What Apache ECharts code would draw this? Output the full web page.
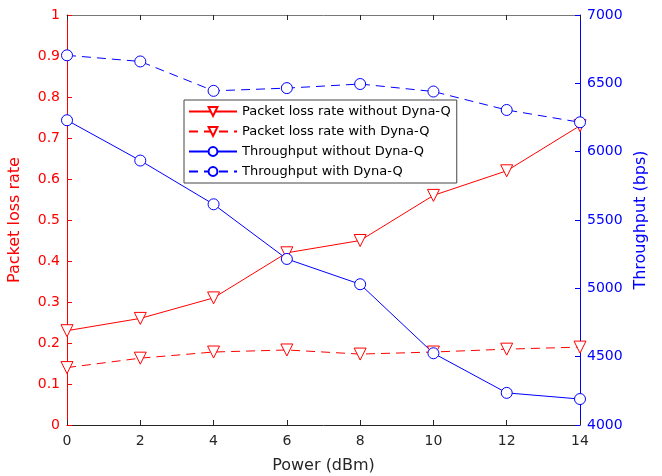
<!DOCTYPE html>
<html><head><meta charset="utf-8">
<script src="https://cdn.jsdelivr.net/npm/echarts@6/dist/echarts.min.js"></script>
<style>html,body{margin:0;padding:0;background:#fff}#c{width:662px;height:476px}</style>
</head><body><div id="c"></div>
<script>
const powers = [0, 2, 4, 6, 8, 10, 12, 14];
const lossWithout = [0.23, 0.26, 0.31, 0.42, 0.45, 0.56, 0.62, 0.73];
const lossWith = [0.14, 0.163, 0.178, 0.183, 0.173, 0.178, 0.185, 0.19];
const thrWithout = [6230, 5935, 5615, 5215, 5030, 4525, 4235, 4190];
const thrWith = [6705, 6660, 6445, 6465, 6495, 6440, 6305, 6215];
const names = ['Packet loss rate without Dyna-Q','Packet loss rate with Dyna-Q','Throughput without Dyna-Q','Throughput with Dyna-Q'];
const leftTicks = [0,0.1,0.2,0.3,0.4,0.5,0.6,0.7,0.8,0.9,1];

const RED = '#ff0000', BLUE = '#0000ff', FONT = 'DejaVu Sans';
const pairs = ys => powers.map((x, i) => [x, ys[i]]);

function mk(name, data, color, dashed, symbol, size, yIdx) {
  return {
    name, type: 'line', data: pairs(data), yAxisIndex: yIdx,
    symbol, symbolSize: size, showSymbol: true,
    symbolRotate: symbol === 'triangle' ? 180 : 0,
    lineStyle: { color, width: 1, type: dashed ? [9, 6] : 'solid' },
    itemStyle: { color: '#fff', borderColor: color, borderWidth: 1 },
    emphasis: { disabled: true }, animation: false, z: 3
  };
}

const chart = echarts.init(document.getElementById('c'));
chart.setOption({
  backgroundColor: '#fff',
  animation: false,
  textStyle: { fontFamily: FONT },
  grid: { left: 67, right: 82, top: 15, bottom: 51, show: false, containLabel: false, outerBoundsMode: 'none' },
  legend: {
    orient: 'vertical', left: 184, top: 100,
    backgroundColor: '#fff', borderColor: '#444', borderWidth: 1,
    padding: [5, 6, 5, 4], itemGap: 7, itemWidth: 48, itemHeight: 11,
    textStyle: { fontFamily: FONT, fontSize: 13, color: '#000' },
    data: names
  },
  xAxis: [{
    type: 'value', min: 0, max: 14, interval: 2,
    name: 'Power (dBm)', nameLocation: 'middle', nameGap: 33, nameMoveOverlap: false,
    nameTextStyle: { fontFamily: FONT, fontSize: 16, color: '#262626' },
    axisLine: { show: true, onZero: false, lineStyle: { color: '#262626' } },
    axisTick: { inside: true, length: 5, lineStyle: { color: '#262626' } },
    axisLabel: { fontFamily: FONT, fontSize: 14, color: '#262626', margin: 9 },
    splitLine: { show: false }
  }, {
    type: 'value', min: 0, max: 14, interval: 2, position: 'top',
    axisLine: { show: true, onZero: false, lineStyle: { color: '#777' } },
    axisTick: { inside: true, length: 5, lineStyle: { color: '#262626' } },
    axisLabel: { show: false }, splitLine: { show: false }
  }],
  yAxis: [{
    type: 'value', min: 0, max: 1, interval: 0.1, position: 'left',
    name: 'Packet loss rate', nameLocation: 'middle', nameGap: 44, nameMoveOverlap: false,
    nameTextStyle: { fontFamily: FONT, fontSize: 16, color: RED },
    axisLine: { show: true, onZero: false, lineStyle: { color: RED } },
    axisTick: { inside: true, length: 5, lineStyle: { color: RED } },
    axisLabel: { fontFamily: FONT, fontSize: 14, color: RED, margin: 7,
      formatter: v => { const t = leftTicks.find(x => Math.abs(x - v) < 1e-9); return t === undefined ? '' : String(t); } },
    splitLine: { show: false }
  }, {
    type: 'value', min: 4000, max: 7000, interval: 500, position: 'right',
    name: 'Throughput (bps)', nameLocation: 'middle', nameGap: 53, nameMoveOverlap: false,
    nameTextStyle: { fontFamily: FONT, fontSize: 16, color: BLUE },
    axisLine: { show: true, onZero: false, lineStyle: { color: BLUE } },
    axisTick: { inside: true, length: 5, lineStyle: { color: BLUE } },
    axisLabel: { fontFamily: FONT, fontSize: 14, color: BLUE, margin: 7, formatter: v => String(v) },
    splitLine: { show: false }
  }],
  series: [
    mk(names[0], lossWithout, RED, false, 'triangle', 12, 0),
    mk(names[1], lossWith, RED, true, 'triangle', 12, 0),
    mk(names[2], thrWithout, BLUE, false, 'circle', 11, 1),
    mk(names[3], thrWith, BLUE, true, 'circle', 11, 1)
  ]
});
</script></body></html>
